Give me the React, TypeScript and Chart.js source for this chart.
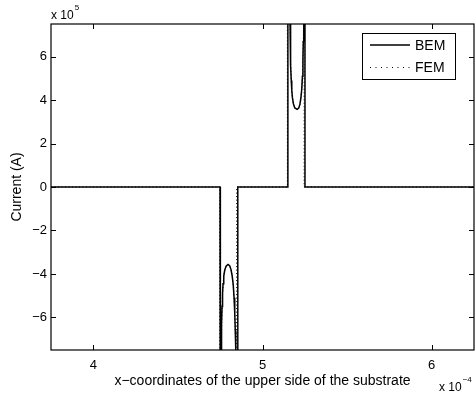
import React, { useEffect, useRef } from 'react';
import { Chart, registerables } from 'chart.js';

Chart.register(...registerables);

// Axis settings (values in units of 1e-4 for x and 1e5 for y)
const xTicks = [4, 5, 6];
const yTicks = [-6, -4, -2, 0, 2, 4, 6];
const xMin = 3.75;
const xMax = 6.25;
const yMin = -7.5;
const yMax = 7.5;
const xExponent = '−4';
const yExponent = '5';
const xTitle = 'x−coordinates of the upper side of the substrate';
const yTitle = 'Current (A)';
const seriesNames = ['BEM', 'FEM'];

// BEM series
const bemX = [
  3.75, 4.749, 4.749, 4.753, 4.755, 4.757, 4.759, 4.761, 4.764, 4.767, 4.771, 4.777, 4.785, 4.796,
  4.806, 4.814, 4.821, 4.827, 4.832, 4.836, 4.839, 4.842, 4.844, 4.854, 4.854, 5.15, 5.15, 5.156,
  5.16, 5.163, 5.165, 5.167, 5.17, 5.173, 5.177, 5.183, 5.191, 5.205, 5.214, 5.221, 5.227, 5.232,
  5.236, 5.239, 5.241, 5.243, 5.245, 5.251, 5.251, 6.25,
];
const bemY = [
  0, 0, -20, -20, -9, -7.4, -6.3, -5.5, -4.9, -4.45, -4.1, -3.82, -3.64, -3.56,
  -3.62, -3.8, -4.1, -4.5, -5.1, -5.8, -6.6, -7.5, -20, -20, 0, 0, 20, 20,
  9, 7.5, 6.4, 5.6, 4.9, 4.45, 4.1, 3.82, 3.64, 3.57, 3.63, 3.8, 4.1, 4.5,
  5.1, 5.9, 6.7, 7.5, 20, 20, 0, 0,
];

// FEM series
const femX = [
  3.75, 4.747, 4.747, 4.753, 4.755, 4.757, 4.759, 4.761, 4.764, 4.767, 4.771, 4.777, 4.785, 4.796,
  4.806, 4.814, 4.821, 4.827, 4.832, 4.836, 4.839, 4.842, 4.844, 4.847, 4.847, 5.147, 5.147, 5.156,
  5.16, 5.163, 5.165, 5.167, 5.17, 5.173, 5.177, 5.183, 5.191, 5.205, 5.214, 5.221, 5.227, 5.232,
  5.236, 5.239, 5.241, 5.243, 5.245, 5.246, 5.246, 6.25,
];
const femY = [
  0, 0, -20, -20, -9, -7.4, -6.3, -5.5, -4.9, -4.45, -4.1, -3.82, -3.64, -3.56,
  -3.62, -3.8, -4.1, -4.5, -5.1, -5.8, -6.6, -7.5, -20, -20, 0, 0, 20, 20,
  9, 7.5, 6.4, 5.6, 4.9, 4.45, 4.1, 3.82, 3.64, 3.57, 3.63, 3.8, 4.1, 4.5,
  5.1, 5.9, 6.7, 7.5, 20, 20, 0, 0,
];

const FONT = '"Liberation Sans", Arial, Helvetica, sans-serif';
const FEM_DASH = [1, 2.5];

const matlabAxes = {
  id: 'matlabAxes',
  afterDatasetsDraw(chart: any) {
    const { ctx, chartArea: a, scales } = chart;
    ctx.save();
    ctx.strokeStyle = '#000';
    ctx.lineWidth = 1.2;
    ctx.setLineDash([]);
    ctx.strokeRect(a.left, a.top, a.right - a.left, a.bottom - a.top);
    const tl = 5;
    ctx.lineWidth = 1;
    ctx.beginPath();
    for (const v of xTicks) {
      const px = Math.round(scales.x.getPixelForValue(v)) + 0.5;
      ctx.moveTo(px, a.bottom);
      ctx.lineTo(px, a.bottom - tl);
      ctx.moveTo(px, a.top);
      ctx.lineTo(px, a.top + tl);
    }
    for (const v of yTicks) {
      const py = Math.round(scales.y.getPixelForValue(v)) + 0.5;
      ctx.moveTo(a.left, py);
      ctx.lineTo(a.left + tl, py);
      ctx.moveTo(a.right, py);
      ctx.lineTo(a.right - tl, py);
    }
    ctx.stroke();

    // exponent labels
    ctx.fillStyle = '#000';
    ctx.textBaseline = 'middle';
    ctx.textAlign = 'left';
    ctx.font = `12px ${FONT}`;
    const base = 'x 10';
    const w = ctx.measureText(base).width;
    ctx.fillText(base, a.left, 16);
    ctx.font = `8px ${FONT}`;
    ctx.fillText(yExponent, a.left + w + 1, 8);

    ctx.font = `12px ${FONT}`;
    ctx.fillText(base, 439, 388);
    ctx.font = `8px ${FONT}`;
    ctx.fillText(xExponent, 439 + w + 1, 380);

    // legend
    const lx = 362, ly = 33, lw = 93, lh = 46;
    ctx.fillStyle = '#fff';
    ctx.fillRect(lx, ly, lw, lh);
    ctx.strokeStyle = '#000';
    ctx.lineWidth = 1;
    ctx.strokeRect(lx + 0.5, ly + 0.5, lw, lh);
    const rows = [45, 67];
    ctx.lineWidth = 1.3;
    ctx.beginPath();
    ctx.moveTo(370, rows[0]);
    ctx.lineTo(410, rows[0]);
    ctx.stroke();
    ctx.lineWidth = 1;
    ctx.setLineDash([1, 4.5]);
    ctx.beginPath();
    ctx.moveTo(370, rows[1] + 0.5);
    ctx.lineTo(410, rows[1] + 0.5);
    ctx.stroke();
    ctx.setLineDash([]);
    ctx.fillStyle = '#000';
    ctx.font = `14px ${FONT}`;
    ctx.textBaseline = 'middle';
    ctx.fillText(seriesNames[0], 415, rows[0] + 1);
    ctx.fillText(seriesNames[1], 415, rows[1] + 1);
    ctx.restore();
  },
};

export default function App() {
  const ref = useRef<HTMLCanvasElement | null>(null);

  useEffect(() => {
    if (!ref.current) return;
    const chart = new Chart(ref.current, {
      type: 'line',
      data: {
        datasets: [
          {
            label: seriesNames[1],
            data: femX.map((x, i) => ({ x, y: femY[i] })),
            borderColor: '#000',
            borderWidth: 1,
            borderDash: FEM_DASH,
            pointRadius: 0,
            fill: false,
            tension: 0,
          },
          {
            label: seriesNames[0],
            data: bemX.map((x, i) => ({ x, y: bemY[i] })),
            borderColor: '#000',
            borderWidth: 1.5,
            pointRadius: 0,
            fill: false,
            tension: 0,
          },
        ],
      },
      options: {
        animation: false,
        responsive: false,
        devicePixelRatio: 1,
        layout: { padding: { top: 24, right: 2, left: 0, bottom: 0 } },
        plugins: {
          legend: { display: false },
          tooltip: { enabled: false },
        },
        scales: {
          x: {
            type: 'linear',
            min: xMin,
            max: xMax,
            grid: { display: false, drawTicks: false },
            border: { display: false },
            afterBuildTicks: (s: any) => {
              s.ticks = xTicks.map((v) => ({ value: v }));
            },
            afterFit: (s: any) => {
              s.height = 48;
            },
            ticks: {
              color: '#000',
              padding: 8,
              font: { family: FONT, size: 13 },
              callback: (v: any) => String(v),
            },
            title: {
              display: true,
              text: xTitle,
              color: '#000',
              font: { family: FONT, size: 14 },
              padding: { top: 0, bottom: 8.6 },
            },
          },
          y: {
            type: 'linear',
            min: yMin,
            max: yMax,
            grid: { display: false, drawTicks: false },
            border: { display: false },
            afterBuildTicks: (s: any) => {
              s.ticks = yTicks.map((v) => ({ value: v }));
            },
            afterFit: (s: any) => {
              s.width = 51;
            },
            ticks: {
              color: '#000',
              padding: 4,
              font: { family: FONT, size: 13 },
              callback: (v: any) => (v < 0 ? '−' + Math.abs(v) : String(v)),
            },
            title: {
              display: true,
              text: yTitle,
              color: '#000',
              font: { family: FONT, size: 14 },
              padding: { top: 8.6, bottom: 0 },
            },
          },
        },
      },
      plugins: [matlabAxes],
    });
    return () => chart.destroy();
  }, []);

  return (
    <div style={{ position: 'fixed', left: 0, top: 0, width: 476, height: 398, background: '#fff' }}>
      <canvas ref={ref} width={476} height={398} style={{ display: 'block' }} />
    </div>
  );
}
